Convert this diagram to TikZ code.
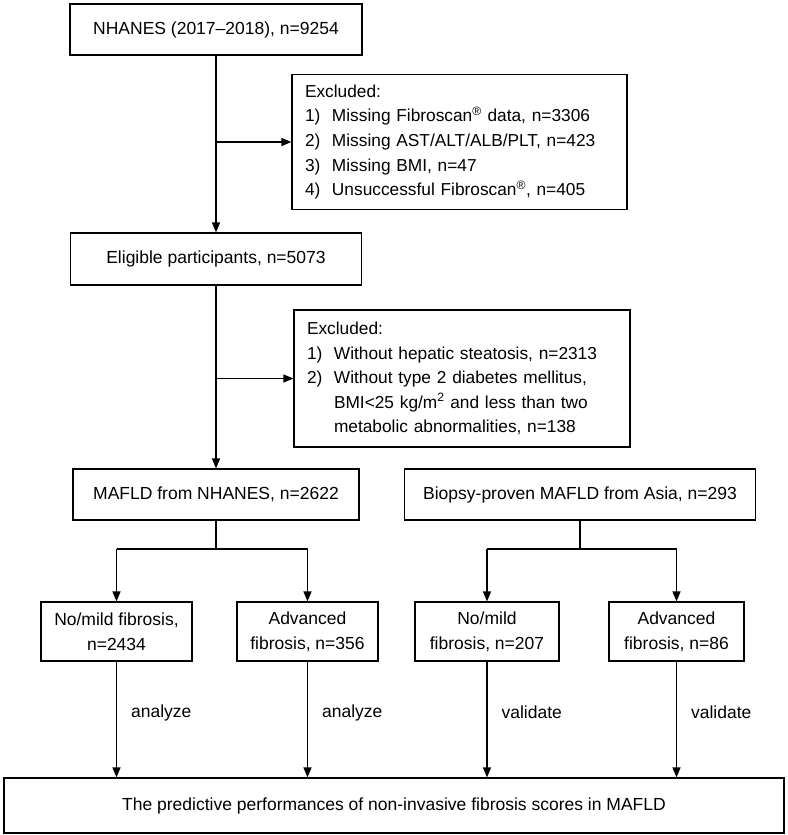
\documentclass[tikz,border=0pt]{standalone}
\usepackage{fontspec}
\setmainfont{Liberation Sans}
\usetikzlibrary{arrows.meta}
\begin{document}
\begin{tikzpicture}[x=1pt,y=-1pt,
  box/.style={draw=black,line width=1.2pt,inner sep=0pt,align=center,
    font=\fontsize{17.5}{25}\selectfont},
  exbox/.style={draw=black,line width=1.2pt,inner xsep=13pt,inner ysep=0pt,align=left,
    font=\fontsize{17.3}{24.6}\selectfont},
  conn/.style={line width=1.2pt},
  arr/.style={line width=1.2pt,-{Triangle[length=10pt,width=8pt]}},
  lbl/.style={font=\fontsize{17.5}{20}\selectfont,anchor=west,inner sep=0pt}]
\useasboundingbox (0,0) rectangle (787,835);
\newcommand{\itm}[1]{\makebox[27pt][l]{#1}}
\node[box,minimum width=292pt,minimum height=51pt] (nh) at (216,29.5) {NHANES (2017–2018), n=9254};
\node[exbox,minimum width=335pt,minimum height=135pt,text width=309pt] (ex1) at (459.5,142) {Excluded:\\
\itm{1)}Missing Fibroscan\textsuperscript{®} data, n=3306\\
\itm{2)}Missing AST/ALT/ALB/PLT, n=423\\
\itm{3)}Missing BMI, n=47\\
\itm{4)}Unsuccessful Fibroscan\textsuperscript{®}, n=405};
\node[box,minimum width=291pt,minimum height=52pt] (el) at (216,259) {Eligible participants, n=5073};
\node[exbox,minimum width=336pt,minimum height=137pt,text width=310pt] (ex2) at (462,378.5) {Excluded:\\
\itm{1)}Without hepatic steatosis, n=2313\\
\itm{2)}Without type 2 diabetes mellitus,\\
\itm{}BMI<25 kg/m\textsuperscript{2} and less than two\\
\itm{}metabolic abnormalities, n=138};
\node[box,minimum width=286pt,minimum height=51pt] (ma) at (216,494.5) {MAFLD from NHANES, n=2622};
\node[box,minimum width=351pt,minimum height=51pt] (bio) at (580,494.5) {Biopsy-proven MAFLD from Asia, n=293};
\node[box,minimum width=151pt,minimum height=59pt] (f1) at (116.5,631.5) {No/mild fibrosis,\\n=2434};
\node[box,minimum width=141pt,minimum height=59pt] (f2) at (307.5,631.5) {Advanced\\fibrosis, n=356};
\node[box,minimum width=144pt,minimum height=59pt] (f3) at (487,631.5) {No/mild\\fibrosis, n=207};
\node[box,minimum width=135pt,minimum height=59pt] (f4) at (676.5,631.5) {Advanced\\fibrosis, n=86};
\node[box,minimum width=780pt,minimum height=55pt] (fin) at (394,805.5) {The predictive performances of non-invasive fibrosis scores in MAFLD};
% main flow
\draw[arr] (nh.south) -- (el.north);
\draw[arr] (nh.south |- ex1.west) -- (ex1.west);
\draw[arr] (el.south) -- (ma.north);
\draw[arr] (el.south |- ex2.west) -- (ex2.west);
% branches
\coordinate (j1) at (216,549);
\coordinate (j2) at (580,549);
\draw[conn] (ma.south) -- (j1);
\draw[conn] (f1.north |- j1) -- (f2.north |- j1);
\draw[arr] (f1.north |- j1) -- (f1.north);
\draw[arr] (f2.north |- j1) -- (f2.north);
\draw[conn] (bio.south) -- (j2);
\draw[conn] (f3.north |- j2) -- (f4.north |- j2);
\draw[arr] (f3.north |- j2) -- (f3.north);
\draw[arr] (f4.north |- j2) -- (f4.north);
% to final
\draw[arr] (f1.south) -- (f1.south |- fin.north) node[lbl,pos=0.44,xshift=14pt] (l1) {analyze};
\draw[arr] (f2.south) -- (f2.south |- fin.north) node[lbl,pos=0.44,xshift=14pt] (l2) {analyze};
\draw[arr] (f3.south) -- (f3.south |- fin.north) node[lbl,pos=0.44,xshift=14pt] (l3) {validate};
\draw[arr] (f4.south) -- (f4.south |- fin.north) node[lbl,pos=0.44,xshift=14pt] (l4) {validate};
\end{tikzpicture}
\end{document}
